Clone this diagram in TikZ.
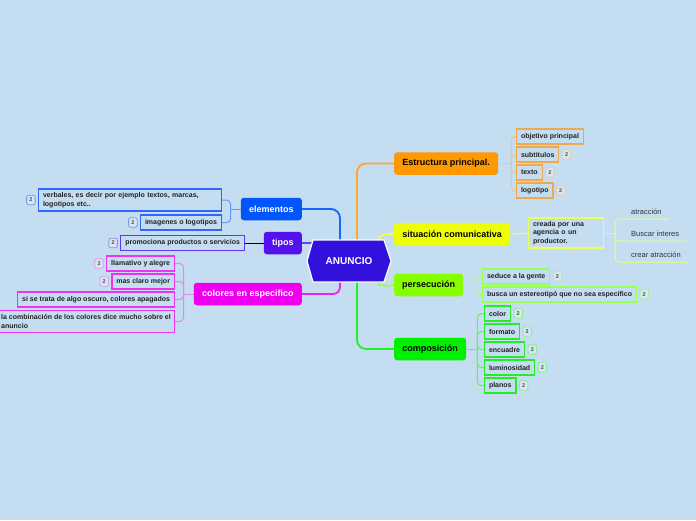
\documentclass[tikz,border=0pt]{standalone}
\usepackage{fontspec}
\setmainfont{Liberation Sans}
\usetikzlibrary{backgrounds,calc,positioning}
\definecolor{bg}{HTML}{C4DDF0}
\definecolor{badgefill}{HTML}{D6E6F3}
\definecolor{txt}{HTML}{222222}
\definecolor{itemtxt}{HTML}{333333}
\definecolor{hexc}{HTML}{3311DD}
% main fills
\definecolor{estc}{HTML}{FF9900}
\definecolor{sitc}{HTML}{EEFF00}
\definecolor{perc}{HTML}{88FF00}
\definecolor{compc}{HTML}{00F000}
\definecolor{elemc}{HTML}{0055FF}
\definecolor{tipc}{HTML}{5511EE}
\definecolor{colc}{HTML}{EE00EE}
% main connector colours
\definecolor{estl}{HTML}{FFA633}
\definecolor{sitl}{HTML}{EEFF44}
\definecolor{perl}{HTML}{99FF44}
\definecolor{compl}{HTML}{22F022}
\definecolor{eleml}{HTML}{1166FF}
\definecolor{tipl}{HTML}{6644EE}
\definecolor{coll}{HTML}{EE22EE}
% child borders
\definecolor{estk}{HTML}{F0A850}
\definecolor{sitk}{HTML}{EEFF55}
\definecolor{perk}{HTML}{99FF55}
\definecolor{compk}{HTML}{22EE22}
\definecolor{elemk}{HTML}{3366FF}
\definecolor{tipk}{HTML}{6633EE}
\definecolor{colk}{HTML}{EE33EE}
% sub connectors
\definecolor{ests}{HTML}{F2C688}
\definecolor{sits}{HTML}{E8FF77}
\definecolor{pers}{HTML}{AAFF77}
\definecolor{comps}{HTML}{66EE66}
\definecolor{elems}{HTML}{6699FF}
\definecolor{tips}{HTML}{8866EE}
\definecolor{cols}{HTML}{E08AE8}
% badge borders
\definecolor{estb}{HTML}{E8C8A0}
\definecolor{perb}{HTML}{A8EE90}
\definecolor{compb}{HTML}{88EE88}
\definecolor{elemb}{HTML}{7799EE}
\definecolor{tipb}{HTML}{9988EE}
\definecolor{colb}{HTML}{DD99E8}
\begin{document}
\begin{tikzpicture}[x=1pt,y=-1pt,
  mainbox/.style={rounded corners=3pt, font=\bfseries\fontsize{9}{10}\selectfont, minimum height=22.5pt, inner sep=0pt, align=center},
  kid/.style={draw, line width=1.2pt, fill=bg, font=\bfseries\fontsize{7}{8.5}\selectfont, text=txt, minimum height=15pt, inner xsep=4.4pt, inner ysep=2pt},
  badge/.style={draw, line width=0.8pt, rounded corners=2pt, fill=badgefill, font=\bfseries\fontsize{5.5}{5.5}\selectfont, text=txt!80, minimum width=8.5pt, minimum height=9.5pt, inner sep=0pt},
  item/.style={font=\fontsize{7.5}{8}\selectfont, text=itemtxt, inner sep=1pt},
  conn/.style={line width=1.8pt, rounded corners=9pt},
  sub/.style={line width=1pt, rounded corners=4pt},
]
\useasboundingbox (0,0) rectangle (696,520);
\begin{scope}[on background layer]
  \fill[bg] (0,0) rectangle (696,520);
\end{scope}

% central node
\fill[hexc, draw=white, line width=1.2pt] (313,240) -- (384,240) -- (391,261) -- (384,282) -- (313,282) -- (307,261) -- cycle;
\node[font=\bfseries\fontsize{10}{11}\selectfont, text=white, minimum width=84pt, minimum height=42pt, inner sep=0pt] (c) at (349,261) {ANUNCIO};

% main branches
\node[mainbox, fill=estc, text=black, anchor=west, minimum width=104pt] (est) at (394,163.5) {Estructura principal.};
\node[mainbox, fill=sitc, text=black, anchor=west, minimum width=116pt] (sit) at (394,234) {situación comunicativa};
\node[mainbox, fill=perc, text=black, anchor=west, minimum width=69pt] (per) at (394,285) {persecución};
\node[mainbox, fill=compc, text=black, anchor=west, minimum width=72pt] (comp) at (394,349) {composición};
\node[mainbox, fill=elemc, text=white, anchor=east, minimum width=61pt] (elem) at (302,209) {elementos};
\node[mainbox, fill=tipc, text=white, anchor=east, minimum width=38pt] (tip) at (302,243) {tipos};
\node[mainbox, fill=colc, text=white, anchor=east, minimum width=108pt] (col) at (302,294) {colores en especifico};

% Estructura children
\node[kid, draw=estk, anchor=west] (e1) at (516,136.5) {objetivo principal};
\node[kid, draw=estk, anchor=west] (e2) at (516,154.5) {subtitulos};
\node[kid, draw=estk, anchor=west] (e3) at (516,172.5) {texto};
\node[kid, draw=estk, anchor=west] (e4) at (516,190.5) {logotipo};
\node[badge, draw=estb, right=2.5pt of e2] (e2b) {2};
\node[badge, draw=estb, right=2.5pt of e3] (e3b) {2};
\node[badge, draw=estb, right=2.5pt of e4] (e4b) {2};

% situacion children
\node[kid, draw=sitk, anchor=west, align=left, text width=66pt, minimum height=30pt, inner ysep=2pt] (cr) at (528,233) {creada por una\\agencia o un\\productor.};
\node[item, anchor=west] (a1) at (630,212) {atracción};
\node[item, anchor=west] (a2) at (630,233.5) {Buscar interes};
\node[item, anchor=west] (a3) at (630,255) {crear atracción};

% persecucion children
\node[kid, draw=perk, anchor=west] (p1) at (482,276.5) {seduce a la gente};
\node[kid, draw=perk, anchor=west] (p2) at (482,294.5) {busca un estereotipó que no sea especifico};
\node[badge, draw=perb, right=2.5pt of p1] (p1b) {2};
\node[badge, draw=perb, right=2.5pt of p2] (p2b) {2};

% composicion children
\node[kid, draw=compk, anchor=west] (q1) at (484,313.5) {color};
\node[kid, draw=compk, anchor=west] (q2) at (484,331.5) {formato};
\node[kid, draw=compk, anchor=west] (q3) at (484,349.5) {encuadre};
\node[kid, draw=compk, anchor=west] (q4) at (484,367.5) {luminosidad};
\node[kid, draw=compk, anchor=west] (q5) at (484,385.5) {planos};
\node[badge, draw=compb, right=2.5pt of q1] (q1b) {2};
\node[badge, draw=compb, right=2.5pt of q2] (q2b) {2};
\node[badge, draw=compb, right=2.5pt of q3] (q3b) {2};
\node[badge, draw=compb, right=2.5pt of q4] (q4b) {2};
\node[badge, draw=compb, right=2.5pt of q5] (q5b) {2};

% elementos children
\node[kid, draw=elemk, anchor=east, align=left, text width=174pt, minimum height=22pt] (v1) at (222,200) {verbales, es decir por ejemplo textos, marcas,\\logotipos etc..};
\node[kid, draw=elemk, anchor=east] (v2) at (222,222.5) {imagenes o logotipos};
\node[badge, draw=elemb, left=2.5pt of v1] (v1b) {2};
\node[badge, draw=elemb, left=2.5pt of v2] (v2b) {2};

% tipos child
\node[kid, draw=tipk, anchor=east] (t1) at (245,243) {promociona productos o servicios};
\node[badge, draw=tipb, left=2.5pt of t1] (t1b) {2};

% colores children
\node[kid, draw=colk, anchor=east] (k1) at (175,263.5) {llamativo y alegre};
\node[kid, draw=colk, anchor=east] (k2) at (175,281.5) {mas claro mejor};
\node[kid, draw=colk, anchor=east] (k3) at (175,299.5) {si se trata de algo oscuro, colores apagados};
\node[kid, draw=colk, anchor=east, align=left, inner xsep=3.6pt, minimum height=22pt] (k4) at (175,321.5) {la combinación de los colores dice mucho sobre el\\anuncio};
\node[badge, draw=colb, left=2.5pt of k1] (k1b) {2};
\node[badge, draw=colb, left=2.5pt of k2] (k2b) {2};

\coordinate (tipin) at (316,243);

\begin{scope}[on background layer]
  % main connectors
  \draw[conn, estl] ([xshift=8pt]c.north) |- (est.west);
  \draw[conn, compl] ([xshift=8pt]c.south) |- (comp.west);
  \draw[conn, eleml] ([xshift=-9pt]c.north) |- (elem.east);
  \draw[conn, coll, rounded corners=7pt] ([xshift=-9pt]c.south) |- (col.east);
  \draw[conn, tipl] (tip.east) -- (tipin);
  \draw[line width=1.8pt, sitl] ([xshift=-14pt]c.north east) to[out=60,in=180] (sit.west);
  \draw[line width=1.8pt, perl] ([xshift=-14pt]c.south east) to[out=-60,in=180] (per.west);

  % Estructura subs
  \draw[sub, ests] (est.east) -- ++(13,0) coordinate (ef);
  \foreach \n in {e1,e2,e3,e4} \draw[sub, ests] (ef) |- (\n.west);
  % situacion subs
  \draw[sub, sits] (sit.east) -- (cr.west);
  \draw[sub, sits] (cr.east) -- ++(11,0) coordinate (sf);
  \draw[sub, sits] (sf) |- ($(a1.east)+(6,7)$);
  \draw[sub, sits] (sf) |- ($(a2.east)+(6,7.5)$);
  \draw[sub, sits] (sf) |- ($(a3.east)+(6,7)$);
  % persecucion subs
  \draw[sub, pers] (per.east) -- ++(12,0) coordinate (pf);
  \foreach \n in {p1,p2} \draw[sub, pers] (pf) |- (\n.west);
  % composicion subs
  \draw[sub, comps] (comp.east) -- ++(11,0) coordinate (qf);
  \foreach \n in {q1,q2,q3,q4,q5} \draw[sub, comps] (qf) |- (\n.west);
  % elementos subs
  \draw[sub, elems] (elem.west) -- ++(-10,0) coordinate (lf);
  \foreach \n in {v1,v2} \draw[sub, elems] (lf) |- (\n.east);
  % tipos sub
  \draw[sub, tips] (tip.west) -- (t1.east);
  % colores subs
  \draw[sub, cols] (col.west) -- ++(-10,0) coordinate (cf);
  \foreach \n in {k1,k2,k3,k4} \draw[sub, cols] (cf) |- (\n.east);
\end{scope}
\end{tikzpicture}
\end{document}
